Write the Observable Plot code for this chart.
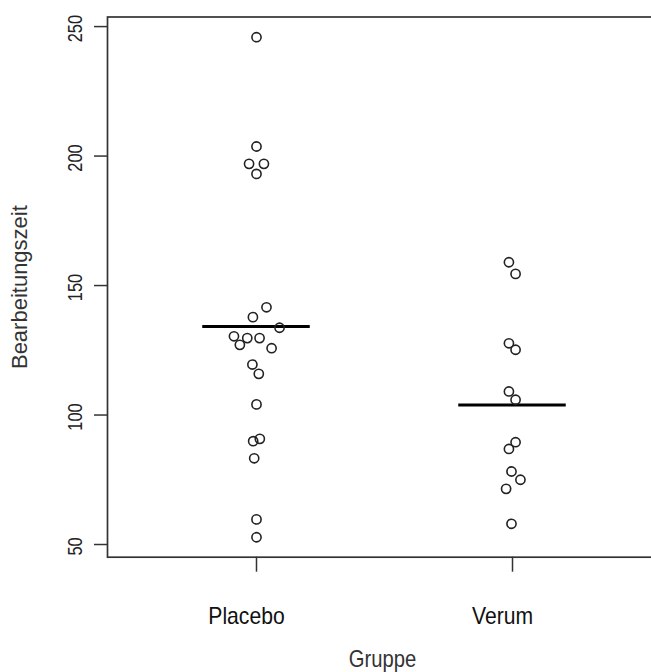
<!DOCTYPE html>
<html>
<head>
<meta charset="utf-8">
<script src="https://cdn.jsdelivr.net/npm/d3@7"></script>
<script src="https://cdn.jsdelivr.net/npm/@observablehq/plot@0.6"></script>
<style>
  body { margin: 0; background: #fff; }
  #chart svg { display: block; }
</style>
</head>
<body>
<div id="chart"></div>
<script>
// Categories
const groups = ["Placebo", "Verum"];
const groupPos = [1, 2];

// Placebo values (Bearbeitungszeit) and horizontal jitter
const placeboValues = [245.9, 203.7, 197.0, 197.0, 193.1, 141.6, 137.8, 133.7, 130.4, 129.7, 129.7, 127.1, 125.8, 119.5, 115.9, 104.1, 89.9, 90.8, 83.3, 59.7, 52.8];
const placeboJitter = [0.0, 0.0, -0.029, 0.029, 0.0, 0.039, -0.014, 0.09, -0.088, -0.036, 0.012, -0.065, 0.059, -0.016, 0.009, 0.0, -0.013, 0.013, -0.009, 0.0, 0.0];

// Verum values and jitter
const verumValues = [159.0, 154.5, 127.7, 125.2, 109.1, 105.9, 89.5, 86.9, 78.2, 75.0, 71.5, 58.0];
const verumJitter = [-0.014, 0.012, -0.014, 0.012, -0.014, 0.012, 0.012, -0.014, -0.004, 0.031, -0.025, -0.004];

// Group means (horizontal bars)
const groupMeans = [134.2, 103.9];

// Axis ticks and titles
const yTicks = [50, 100, 150, 200, 250];
const xTitle = "Gruppe";
const yTitle = "Bearbeitungszeit";

const points = [
  ...placeboValues.map((v, i) => ({group: groups[0], x: groupPos[0] + placeboJitter[i], y: v})),
  ...verumValues.map((v, i) => ({group: groups[1], x: groupPos[1] + verumJitter[i], y: v}))
];
const means = groups.map((g, i) => ({group: g, x: groupPos[i], y: groupMeans[i]}));
const halfBar = 0.21;

const fontFamily = "'Liberation Sans', Arial, Helvetica, sans-serif";

const chart = Plot.plot({
  width: 651,
  height: 672,
  marginLeft: 107,
  marginRight: -10,
  marginTop: 16.5,
  marginBottom: 115.3,
  style: {fontFamily, background: "#fff"},
  x: {domain: [0.418, 2.582], axis: null},
  y: {domain: [45.1, 253.7], axis: null},
  marks: [
    Plot.frame({stroke: "#333", strokeWidth: 1.7}),
    // y ticks
    Plot.axisY({ticks: yTicks, tickSize: 13, tickFormat: () => "", stroke: "#333", strokeWidth: 1.5, label: null}),
    // y tick labels
    Plot.text(yTicks, {y: d => d, text: d => String(d), frameAnchor: "left", textAnchor: "middle", lineAnchor: "middle", dx: -32, dy: 2, rotate: -90, fontSize: 20, fill: "#222"}),
    // x ticks
    Plot.axisX({ticks: groupPos, tickSize: 15, tickFormat: () => "", stroke: "#333", strokeWidth: 1.5, label: null}),
    // x tick labels
    Plot.text(groups, {x: (d, i) => groupPos[i], text: d => d, frameAnchor: "bottom", textAnchor: "middle", lineAnchor: "bottom", dx: -10, dy: 67, fontSize: 23, fill: "#111"}),
    // axis titles
    Plot.text([xTitle], {text: d => d, frameAnchor: "bottom", textAnchor: "middle", lineAnchor: "bottom", dx: -2, dy: 110, fontSize: 23, fill: "#333"}),
    Plot.text([yTitle], {text: d => d, frameAnchor: "left", textAnchor: "middle", lineAnchor: "middle", dx: -88, rotate: -90, fontSize: 22, fill: "#333"}),
    // mean bars
    Plot.ruleY(means, {y: "y", x1: d => d.x - halfBar, x2: d => d.x + halfBar, stroke: "#000", strokeWidth: 3}),
    // points
    Plot.dot(points, {x: "x", y: "y", r: 4.6, stroke: "#222", strokeWidth: 1.6, fill: "none"})
  ]
});

// Condense label glyphs horizontally (along the text direction) as in the reference
const condense = new Map([
  ...yTicks.map(t => [String(t), 0.82]),
  ...groups.map(g => [g, 0.92]),
  [xTitle, 0.88]
]);
chart.querySelectorAll("text").forEach(t => {
  const s = condense.get(t.textContent.trim());
  if (!s) return;
  const tr = t.getAttribute("transform");
  if (tr) {
    t.setAttribute("transform", tr + ` scale(${s},1)`);
  } else {
    const x = +t.getAttribute("x") || 0, y = +t.getAttribute("y") || 0;
    t.setAttribute("transform", `translate(${x},${y}) scale(${s},1) translate(${-x},${-y})`);
  }
});

document.getElementById("chart").append(chart);
</script>
</body>
</html>
